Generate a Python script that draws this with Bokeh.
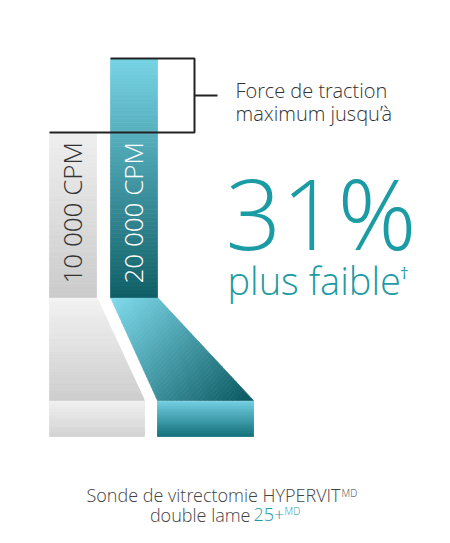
import math
from bokeh.plotting import figure
from bokeh.models import Range1d, ColumnDataSource
from bokeh.core.properties import value
from bokeh.embed import file_html
from bokeh.resources import INLINE

# ---------------- data ----------------
categories = ["10 000 CPM", "20 000 CPM"]          # cut rates
force_pct = [69, 100]                               # relative max traction force (%)
headline = "31%"
headline_sub = "plus faible"
bracket_label = ["Force de traction", "maximum jusqu\u2019\u00e0"]
caption_line1 = "Sonde de vitrectomie HYPERVIT"
caption_line2 = "double lame"
caption_product = "25+"
trademark = "MD"
dagger = "\u2020"

# ---------------- layout / style ----------------
BASE_PX = 297.0          # screen row of the bars' base
PX_PER_UNIT = 2.39       # screen px per % unit
def Y(py):
    return (BASE_PX - py) / PX_PER_UNIT

def BL(py, fs):
    """data y for a text whose alphabetic baseline should sit on screen row py"""
    return Y(py - 0.39 * fs)

FONT = value("Open Sans Light")
TEAL = "#1b9ba3"
DARK = "#333333"
CAP = "#444444"
bar_x = [(49, 96), (110, 157)]
bar_top_colors = ["#efefef", "#77d4e5"]
bar_bot_colors = ["#cbcbcb", "#0f5e66"]

p = figure(width=434, height=527, x_range=Range1d(0, 434), y_range=Range1d(Y(527), Y(0)),
           output_backend="svg", toolbar_location=None, min_border=0)
p.axis.visible = False
p.xgrid.visible = False
p.ygrid.visible = False
p.outline_line_color = None
p.background_fill_color = "white"
p.border_fill_color = "white"


def hex2rgb(c):
    c = c.lstrip("#")
    return [int(c[i:i + 2], 16) for i in (0, 2, 4)]


def mix(c0, c1, t):
    a, b = hex2rgb(c0), hex2rgb(c1)
    return "#%02x%02x%02x" % tuple(int(round(a[i] + (b[i] - a[i]) * t)) for i in range(3))


def clip_half(poly, f):
    out = []
    n = len(poly)
    for i in range(n):
        a = poly[i]
        b = poly[(i + 1) % n]
        fa, fb = f(a), f(b)
        if fa >= 0:
            out.append(a)
        if (fa >= 0) != (fb >= 0):
            t = fa / (fa - fb)
            out.append((a[0] + t * (b[0] - a[0]), a[1] + t * (b[1] - a[1])))
    return out


def gradient(poly, p0, p1, c0, c1, n=48):
    """poly / p0 / p1 in (x, Y) data space; gradient measured in screen metric."""
    dx = p1[0] - p0[0]
    dy = (p1[1] - p0[1]) * PX_PER_UNIT
    L2 = dx * dx + dy * dy

    def tt(q):
        return ((q[0] - p0[0]) * dx + (q[1] - p0[1]) * PX_PER_UNIT * dy) / L2

    xs, ys, cols = [], [], []
    for i in range(n):
        lo = -1e9 if i == 0 else i / n
        hi = 1e9 if i == n - 1 else (i + 1) / n
        pol = clip_half(poly, lambda q: tt(q) - lo)
        if len(pol) < 3:
            continue
        pol = clip_half(pol, lambda q: hi - tt(q))
        if len(pol) < 3:
            continue
        xs.append([q[0] for q in pol])
        ys.append([q[1] for q in pol])
        cols.append(mix(c0, c1, (i + 0.5) / n))
    return xs, ys, cols


def draw(xs, ys, cols):
    src = ColumnDataSource(dict(xs=xs, ys=ys, c=cols))
    p.patches("xs", "ys", source=src, fill_color="c", line_color="c", line_width=0.7)


# ---- funnel (decorative) ----
gray_trap = [(49, Y(297)), (96.5, Y(297)), (144, Y(400)), (49, Y(400))]
draw(*gradient(gray_trap, (49, Y(297)), (49, Y(400)), "#f3f3f3", "#cdcdcd"))
gray_base = [(49, Y(401)), (144, Y(401)), (144, Y(436)), (49, Y(436))]
draw(*gradient(gray_base, (49, Y(401)), (49, Y(436)), "#f0f0f0", "#d3d3d3"))

teal_trap = [(110, Y(297)), (157, Y(297)), (253, Y(400)), (157, Y(400))]
draw(*gradient(teal_trap, (118, Y(290)), (240, Y(402)), "#80dbed", "#0d5c64"))
teal_base = [(157, Y(401)), (253, Y(401)), (253, Y(436)), (157, Y(436))]
draw(*gradient(teal_base, (157, Y(401)), (157, Y(436)), "#72cfe2", "#12707a"))

# ---- bars from data ----
for (x0, x1), v, ct, cb in zip(bar_x, force_pct, bar_top_colors, bar_bot_colors):
    poly = [(x0, 0), (x1, 0), (x1, v), (x0, v)]
    draw(*gradient(poly, (x0, v), (x0, 0), ct, cb, n=60))

# ---- bracket (from data) ----
lo_v, hi_v = min(force_pct), max(force_pct)
bx = 194
p.multi_line(xs=[[bar_x[1][0], bx, bx, bar_x[0][0]], [bx, 217]],
             ys=[[hi_v, hi_v, lo_v, lo_v], [(lo_v + hi_v) / 2, (lo_v + hi_v) / 2]],
             line_color="#222222", line_width=2)

# ---- bar labels ----
p.text(x=[(a + b) / 2 - 1 for a, b in bar_x], y=[Y(283)] * 2, text=categories,
       angle=math.pi / 2, text_align="left", text_baseline="middle",
       text_color=[DARK, "#ffffff"], text_font=FONT, text_font_size="26px")

# ---- bracket label ----
p.text(x=[235, 235], y=[BL(97.5, 20), BL(121, 20)], text=bracket_label, text_align="left",
       text_baseline="alphabetic", text_color=DARK, text_font=FONT, text_font_size="20px")

# ---- headline ----
p.text(x=[225], y=[BL(250, 98)], text=[headline], text_align="left", text_baseline="alphabetic",
       text_color=TEAL, text_font=FONT, text_font_size="98px")
p.text(x=[227], y=[BL(294, 38)], text=[headline_sub], text_align="left", text_baseline="alphabetic",
       text_color=TEAL, text_font=FONT, text_font_size="38px")
p.text(x=[399.5], y=[BL(279, 17)], text=[dagger], text_align="left", text_baseline="alphabetic",
       text_color=TEAL, text_font=value("Open Sans"), text_font_size="17px")

# ---- caption ----
p.text(x=[340], y=[BL(501.5, 18)], text=[caption_line1], text_align="right", text_baseline="alphabetic",
       text_color=CAP, text_font=FONT, text_font_size="18px")
p.text(x=[341], y=[BL(496, 10)], text=[trademark], text_align="left", text_baseline="alphabetic",
       text_color=CAP, text_font=FONT, text_font_size="10px")
p.text(x=[250], y=[BL(521.5, 18)], text=[caption_line2], text_align="right", text_baseline="alphabetic",
       text_color=CAP, text_font=FONT, text_font_size="18px")
p.text(x=[253], y=[BL(521.5, 18)], text=[caption_product], text_align="left", text_baseline="alphabetic",
       text_color=TEAL, text_font=FONT, text_font_size="18px")
p.text(x=[284], y=[BL(514, 10)], text=[trademark], text_align="left", text_baseline="alphabetic",
       text_color=TEAL, text_font=FONT, text_font_size="10px")

open("out.html", "w").write(file_html(p, INLINE))
